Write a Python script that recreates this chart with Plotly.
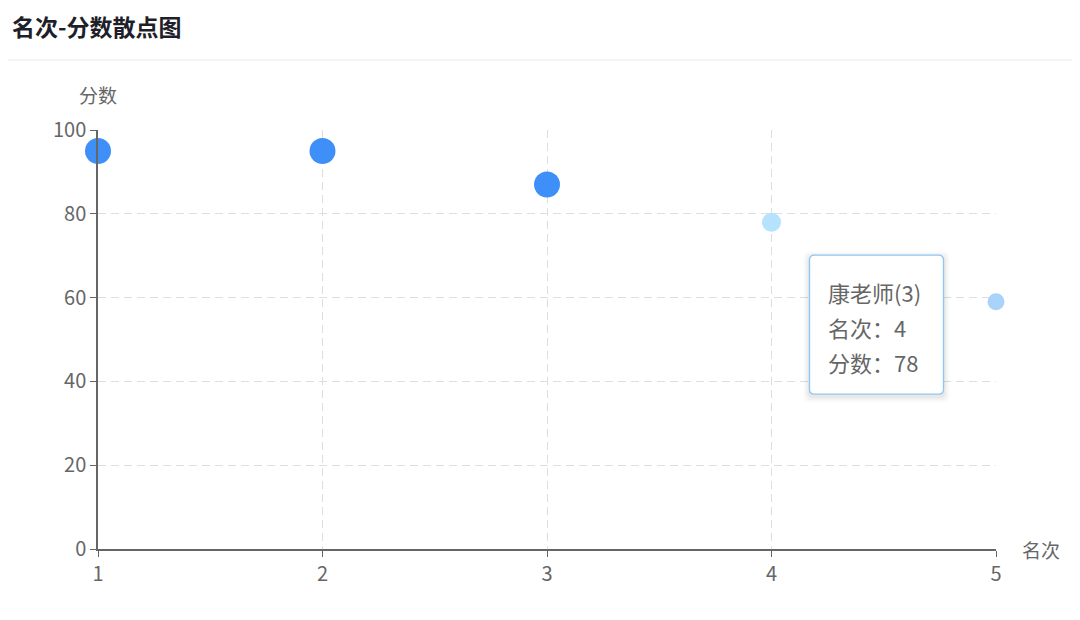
import plotly.graph_objects as go

# 名次 / 分数 data
ranks = [1, 2, 3, 4, 5]
scores = [95, 95, 87, 78, 59]
dot_colors = ['#3f8ff9', '#3f8ff9', '#3f8ff9', '#b5e2fd', '#a9d3fb']
dot_sizes = [26, 26, 26, 19, 17]

# tooltip shown in the screenshot
tip_index = 3
tip_name = '康老师(3)'

font_cjk = 'Noto Sans CJK SC'
grey = '#666666'

fig = go.Figure()
fig.add_trace(go.Scatter(
    x=ranks,
    y=scores,
    mode='markers',
    marker=dict(color=dot_colors, size=dot_sizes, opacity=1, line=dict(width=0)),
    cliponaxis=False,
    showlegend=False,
))

# tooltip box: rounded rect placed in pixels next to the hovered point
def rounded(x0, y0, x1, y1, r):
    return (f'M{x0 + r},{y0} L{x1 - r},{y0} Q{x1},{y0} {x1},{y0 + r} '
            f'L{x1},{y1 - r} Q{x1},{y1} {x1 - r},{y1} L{x0 + r},{y1} '
            f'Q{x0},{y1} {x0},{y1 - r} L{x0},{y0 + r} Q{x0},{y0} {x0 + r},{y0} Z')

tx, ty = ranks[tip_index], scores[tip_index]
# soft shadow
for i, a in enumerate([0.04, 0.03, 0.02]):
    d = 2 + i * 2
    fig.add_shape(type='path', xref='x', yref='y', xsizemode='pixel', ysizemode='pixel',
                  xanchor=tx, yanchor=ty, path=rounded(38 - d, -174 - d, 172 + d, -33 + d - 2, 6),
                  fillcolor=f'rgba(0,0,0,{a})', line=dict(width=0), layer='above')
fig.add_shape(type='path', xref='x', yref='y', xsizemode='pixel', ysizemode='pixel',
              xanchor=tx, yanchor=ty, path=rounded(38, -172, 172, -33, 5),
              fillcolor='white', line=dict(color='#8ec6f4', width=1.3), layer='above')

tip_lines = [tip_name, f'名次：{tx}', f'分数：{ty}']
for i, line in enumerate(tip_lines):
    fig.add_annotation(x=tx, y=ty, xref='x', yref='y', text=line, showarrow=False,
                       xanchor='left', yanchor='middle', xshift=54, yshift=-70 - 35 * i,
                       font=dict(family=font_cjk, size=22, color=grey))

# axis names
fig.add_annotation(x=0, y=1, xref='paper', yref='paper', text='分数',
                   showarrow=False, xanchor='center', yanchor='middle', yshift=36,
                   font=dict(family=font_cjk, size=19, color=grey))
fig.add_annotation(x=1, y=0, xref='paper', yref='paper', text='名次',
                   showarrow=False, xanchor='left', yanchor='middle', xshift=24,
                   font=dict(family=font_cjk, size=19, color=grey))

# header separator line
fig.add_shape(type='line', xref='paper', yref='paper',
              x0=-0.12, x1=1.2, y0=1 + 70 / 419, y1=1 + 70 / 419,
              line=dict(color='#f0f0f0', width=1.5))

axis_style = dict(showline=True, linecolor=grey, linewidth=1.5, ticks='outside',
                  ticklen=6, tickcolor=grey, showgrid=True, gridcolor='#dedede',
                  griddash='8px,5px', gridwidth=1, zeroline=False,
                  tickfont=dict(family=font_cjk, size=20, color=grey))

fig.update_layout(
    width=1080, height=620,
    margin=dict(l=90, r=92, t=122, b=79),
    paper_bgcolor='white', plot_bgcolor='white',
    font=dict(family=font_cjk, color=grey),
    title=dict(text='<b>名次-分数散点图</b>', x=4 / 1080, xanchor='left',
               y=1 - 20 / 620, yanchor='middle',
               font=dict(family=font_cjk, size=23, color='#1f1f2a')),
    xaxis=dict(range=[1, 5], tickvals=ranks, **axis_style),
    yaxis=dict(range=[0, 100], dtick=20, **axis_style),
)

fig.write_html('out.html')
